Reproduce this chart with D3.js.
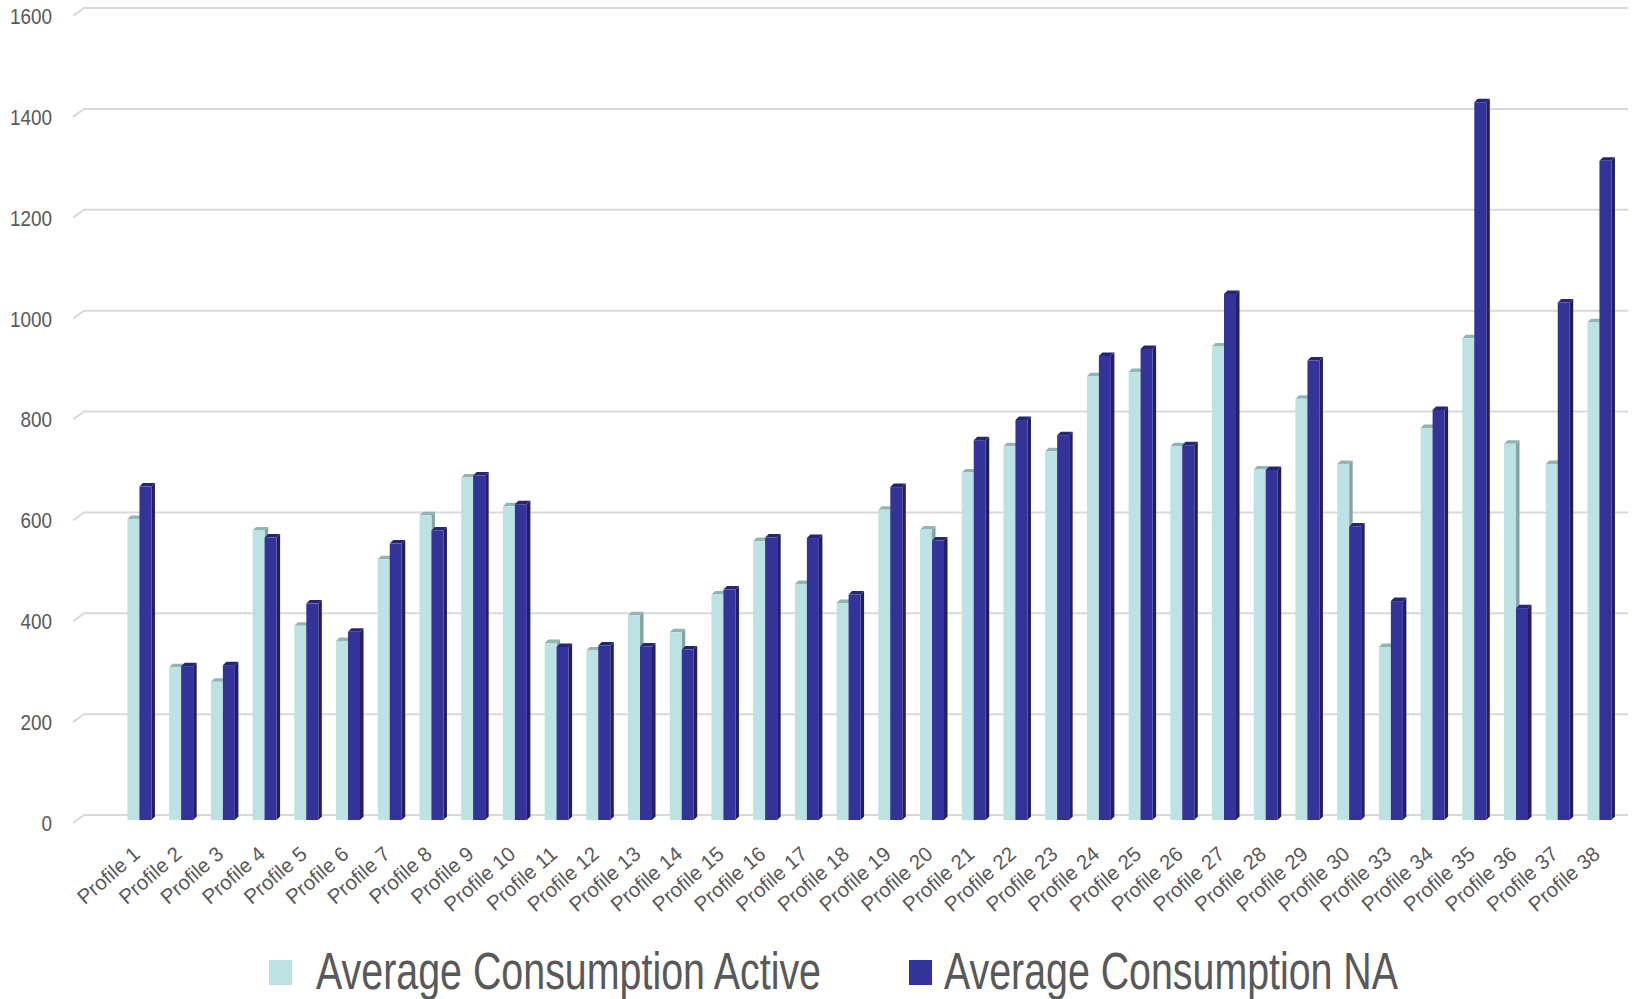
<!DOCTYPE html>
<html>
<head>
<meta charset="utf-8">
<script src="https://cdn.jsdelivr.net/npm/d3@7"></script>
<style>
  html, body { margin: 0; padding: 0; background: #ffffff; }
  svg { display: block; font-family: "Liberation Sans", Arial, sans-serif; }
</style>
</head>
<body>
<svg id="chart" width="1633" height="999"></svg>
<script>
// Profile categories (profiles 31 and 32 are not part of the set)
const categories = [
  "Profile 1", "Profile 2", "Profile 3", "Profile 4", "Profile 5", "Profile 6",
  "Profile 7", "Profile 8", "Profile 9", "Profile 10", "Profile 11", "Profile 12",
  "Profile 13", "Profile 14", "Profile 15", "Profile 16", "Profile 17", "Profile 18",
  "Profile 19", "Profile 20", "Profile 21", "Profile 22", "Profile 23", "Profile 24",
  "Profile 25", "Profile 26", "Profile 27", "Profile 28", "Profile 29", "Profile 30",
  "Profile 33", "Profile 34", "Profile 35", "Profile 36", "Profile 37", "Profile 38"
];

const seriesNames = ["Average Consumption Active", "Average Consumption NA"];

const activeValues = [
  597, 303, 274, 574, 385, 355, 517, 604, 679, 622, 351, 336,
  406, 372, 447, 553, 468, 430, 615, 576, 689, 741, 731, 880,
  888, 741, 939, 695, 835, 706, 343, 777, 955, 746, 706, 987
];

const naValues = [
  661, 305, 307, 560, 429, 373, 548, 574, 683, 626, 343, 346,
  344, 338, 457, 560, 559, 447, 660, 554, 753, 793, 763, 920,
  934, 743, 1043, 694, 911, 582, 434, 813, 1423, 420, 1026, 1307
];

const yTicks = [0, 200, 400, 600, 800, 1000, 1200, 1400, 1600];

// Face colours per series: front, top, side
const palette = [
  { front: "#bce2e3", top: "#93b4b4", side: "#86a3a3" },
  { front: "#333399", top: "#262674", side: "#20205e" }
];

const svg = d3.select("#chart");

// Back wall scale; bars sit slightly in front of it
const y = d3.scaleLinear().domain([0, 1600]).range([815, 8]);
const x = d3.scaleBand().domain(categories).range([118.6, 1620.3]).padding(0);
const xs = d3.scaleBand().domain(seriesNames).range([0, 24]).padding(0);

const wallLeft = 84, wallRight = 1628;
const floorDx = 11, floorDy = 8;   // side-wall/floor perspective
const depth = 3.5;                 // bar depth offset
const frontShift = 5;              // bars drawn in front of the back wall

// Gridlines with the short perspective stub on the left
const grid = svg.append("g").attr("class", "grid");
grid.selectAll("path").data(yTicks).join("path")
  .attr("d", d => `M${wallLeft - floorDx},${y(d) + floorDy} L${wallLeft},${y(d)} L${wallRight},${y(d)}`)
  .attr("fill", "none")
  .attr("stroke", "#d9d9d9")
  .attr("stroke-width", 2);

// Y axis labels
const yl = svg.append("g").attr("class", "y-labels");
yl.selectAll("g").data(yTicks).join("g")
  .attr("transform", d => `translate(52,${y(d) + 8})`)
  .append("text")
  .attr("transform", "scale(0.86,1)")
  .attr("text-anchor", "end")
  .attr("dy", "0.36em")
  .attr("font-size", 22)
  .attr("fill", "#595959")
  .text(d => d);

// Bars, drawn series by series so the NA front hides the Active side
const seriesData = [activeValues, naValues];
seriesData.forEach((vals, si) => {
  const col = palette[si];
  const g = svg.append("g").attr("class", "series-" + si);
  const bars = g.selectAll("g").data(vals.map((v, i) => ({ v, cat: categories[i] }))).join("g");
  const geom = d => {
    const x0 = x(d.cat) + x.bandwidth() / 2 - xs.range()[1] / 2 + xs(seriesNames[si]);
    const x1 = x0 + xs.bandwidth();
    const top = y(d.v) + frontShift;
    const bottom = y(0) + frontShift;
    return { x0, x1, top, bottom };
  };
  bars.append("path")
    .attr("d", d => {
      const { x1, top, bottom } = geom(d);
      return `M${x1},${top} L${x1 + depth},${top - depth} L${x1 + depth},${bottom - depth} L${x1},${bottom} Z`;
    })
    .attr("fill", col.side);
  bars.append("path")
    .attr("d", d => {
      const { x0, x1, top } = geom(d);
      return `M${x0},${top} L${x0 + depth},${top - depth} L${x1 + depth},${top - depth} L${x1},${top} Z`;
    })
    .attr("fill", col.top);
  bars.append("rect")
    .attr("x", d => geom(d).x0)
    .attr("y", d => geom(d).top)
    .attr("width", xs.bandwidth())
    .attr("height", d => geom(d).bottom - geom(d).top)
    .attr("fill", col.front);
});

// Rotated category labels
const xl = svg.append("g").attr("class", "x-labels");
xl.selectAll("g").data(categories).join("g")
  .attr("transform", d => `translate(${x(d) + x.bandwidth() / 2 + 2},${856}) rotate(-41)`)
  .append("text")
  .attr("text-anchor", "end")
  .attr("font-size", 20.5)
  .attr("fill", "#595959")
  .text(d => d);

// Legend
const legendItems = [
  { name: seriesNames[0], color: palette[0].front, sx: 269, tx: 316, len: 505 },
  { name: seriesNames[1], color: palette[1].front, sx: 909, tx: 944, len: 454 }
];
const lg = svg.append("g").attr("class", "legend");
legendItems.forEach(it => {
  lg.append("rect")
    .attr("x", it.sx).attr("y", 960)
    .attr("width", 23).attr("height", 25)
    .attr("fill", it.color);
  lg.append("text")
    .attr("x", it.tx).attr("y", 989)
    .attr("font-size", 51)
    .attr("fill", "#595959")
    .attr("textLength", it.len)
    .attr("lengthAdjust", "spacingAndGlyphs")
    .text(it.name);
});
</script>
</body>
</html>
